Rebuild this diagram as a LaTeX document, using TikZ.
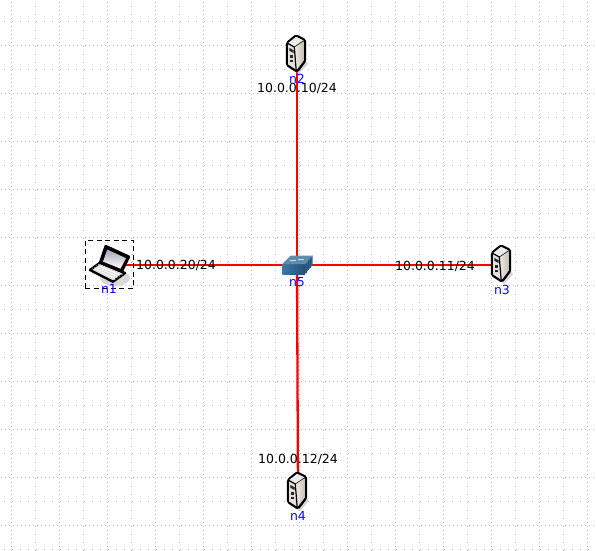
\documentclass[tikz,border=0pt]{standalone}
\usepackage{fontspec}
\setmainfont{DejaVu Sans}
\definecolor{griddot}{gray}{0.72}
\definecolor{linkred}{RGB}{250,0,0}
\definecolor{nodeblue}{RGB}{10,10,250}
\definecolor{swtop}{RGB}{92,140,170}
\definecolor{swfrontA}{RGB}{60,120,165}
\definecolor{swfrontB}{RGB}{35,80,120}
\definecolor{swside}{RGB}{50,100,140}
\definecolor{srvsideA}{RGB}{238,232,224}
\definecolor{srvsideB}{RGB}{200,190,178}
\definecolor{srvfront}{RGB}{225,224,220}
\tikzset{
  x=1pt,y=-1pt,
  anchorpt/.style={inner sep=0pt,minimum size=1pt},
  link/.style={draw=linkred,line width=2.3pt},
  hostname/.style={text=nodeblue,font=\fontsize{12.5}{13}\selectfont,inner sep=0pt},
  addr/.style={text=black,font=\fontsize{12.5}{13}\selectfont,inner sep=0pt},
  outline/.style={draw=black,line width=2.4pt,line join=round},
  server/.pic={
    \fill[black!25,opacity=.6] (0,17) -- (9,6) -- (11,9) -- (2,19) -- cycle;
    \filldraw[outline,fill=srvsideA,rounded corners=1.5pt] (-10,-12) -- (-1,-19.5) -- (8,-15) -- (8,6) -- (0,16.5) -- (-10,10) -- cycle;
    \fill[black!8] (-8.8,-12) -- (-1,-18.2) -- (6.8,-14.5) -- (-2.5,-8.5) -- cycle;
    \shade[left color=srvsideA,right color=srvsideB] (-1.8,-7.5) -- (6.8,-13.5) -- (6.8,5.5) -- (-.3,14.5) -- cycle;
    \fill[srvfront] (-8.8,-10.5) -- (-3,-7.5) -- (-1,14.5) -- (-8.8,9.5) -- cycle;
    \draw[black,line width=1.2pt] (-9,-11.5) -- (-2.7,-8) -- (-.8,15.5);
    \draw[black,line width=.6pt] (-2.7,-8) -- (7,-14.5);
    \fill[black!85] (-7.6,-7) -- (-3.5,-4.8) -- (-3.3,-2) -- (-7.6,-4.2) -- cycle;
    \fill[black!85] (-6.8,0) rectangle (-4.2,2.5);
    \fill[black!85] (-6.8,4.5) rectangle (-4.2,7);
  },
  switchicon/.pic={
    \fill[swside] (8,-1) -- (15.5,-9.3) -- (15.5,0) -- (8,9) -- cycle;
    \shade[left color=swfrontA,right color=swfrontB] (-14.7,-1) rectangle (8,9);
    \fill[swtop] (-14.7,-1) -- (-6.3,-9.3) -- (15.7,-9.3) -- (8,-1) -- cycle;
    \draw[white!70!swtop,line width=.8pt] (-7,-5) -- (-1,-5) (1,-6) -- (7,-6);
    \draw[swfrontB,line width=.5pt] (9.5,-2.5) -- (9.5,7.5) (11.5,-4.7) -- (11.5,5.3) (13.5,-7) -- (13.5,3);
  },
  laptopicon/.pic={
    \fill[black!15] (6,13) ellipse (15 and 8);
    \filldraw[outline,fill=black!4] (-19,5) -- (-9,-2.3) -- (16,8) -- (4,16.7) -- cycle;
    \foreach \t in {.2,.4,.6,.8}{
      \draw[black!20,line width=.5pt] ($(-19,5)!\t!(-9,-2.3)$) -- ($(4,16.7)!\t!(16,8)$);
    }
    \filldraw[outline,fill=black] (-3.3,-19) -- (20,-8.3) -- (12.7,6.7) -- (-9,-2.3) -- cycle;
    \shade[top color=blue!18!black!35,bottom color=white] (-1.8,-15.5) -- (17,-6.8) -- (11.5,3.6) -- (-6,-3.4) -- cycle;
  }
}
\usetikzlibrary{calc}
\begin{document}
\begin{tikzpicture}
\useasboundingbox (0,0) rectangle (596,550);
\fill[white] (0,0) rectangle (596,550);
% background grid of dots
\foreach \c in {11,59,...,587}{
  \foreach \d in {2,6,...,550}{\fill[griddot] (\c-.5,\d-.5) rectangle +(1,1);}
}
\foreach \c in {35,83,...,587}{
  \foreach \d in {6,14,...,550}{\fill[griddot] (\c-.5,\d-.5) rectangle +(1,1);}
}
\foreach \r in {45,93,...,550}{
  \foreach \d in {1,5,...,596}{\fill[griddot] (\d-.5,\r-.5) rectangle +(1,1);}
}
\foreach \r in {21,69,...,550}{
  \foreach \d in {4,12,...,596}{\fill[griddot] (\d-.5,\r-.5) rectangle +(1,1);}
}
% icon anchors
\node[anchorpt] (n1) at (109,265) {};
\node[anchorpt] (n2) at (297,55) {};
\node[anchorpt] (n3) at (502,265) {};
\node[anchorpt] (n4) at (298,492) {};
\node[anchorpt] (n5) at (297,265) {};
% links
\draw[link] (n1.center) -- (n5.center);
\draw[link] (n2.center) -- (n5.center);
\draw[link] (n3.center) -- (n5.center);
\draw[link] (n4.center) -- (n5.center);
% icons
\pic at (n1) {laptopicon};
\pic at (n2) {server};
\pic at (n3) {server};
\pic at (n4) {server};
\pic at (n5) {switchicon};
\node[draw=black,dash pattern=on 5pt off 3.5pt,line width=1pt,inner sep=0pt,minimum size=48pt] (sel) at (109.3,264.3) {};
% labels
\node[hostname] (ln1) at (109,289) {n1};
\node[hostname] (ln2) at (297,79) {n2};
\node[hostname] (ln3) at (502,290) {n3};
\node[hostname] (ln4) at (298,516) {n4};
\node[hostname] (ln5) at (297,282) {n5};
\node[addr] (a1) at (176,265) {10.0.0.20/24};
\node[addr] (a2) at (297,88) {10.0.0.10/24};
\node[addr] (a3) at (435,266) {10.0.0.11/24};
\node[addr] (a4) at (298,459) {10.0.0.12/24};
\end{tikzpicture}
\end{document}
